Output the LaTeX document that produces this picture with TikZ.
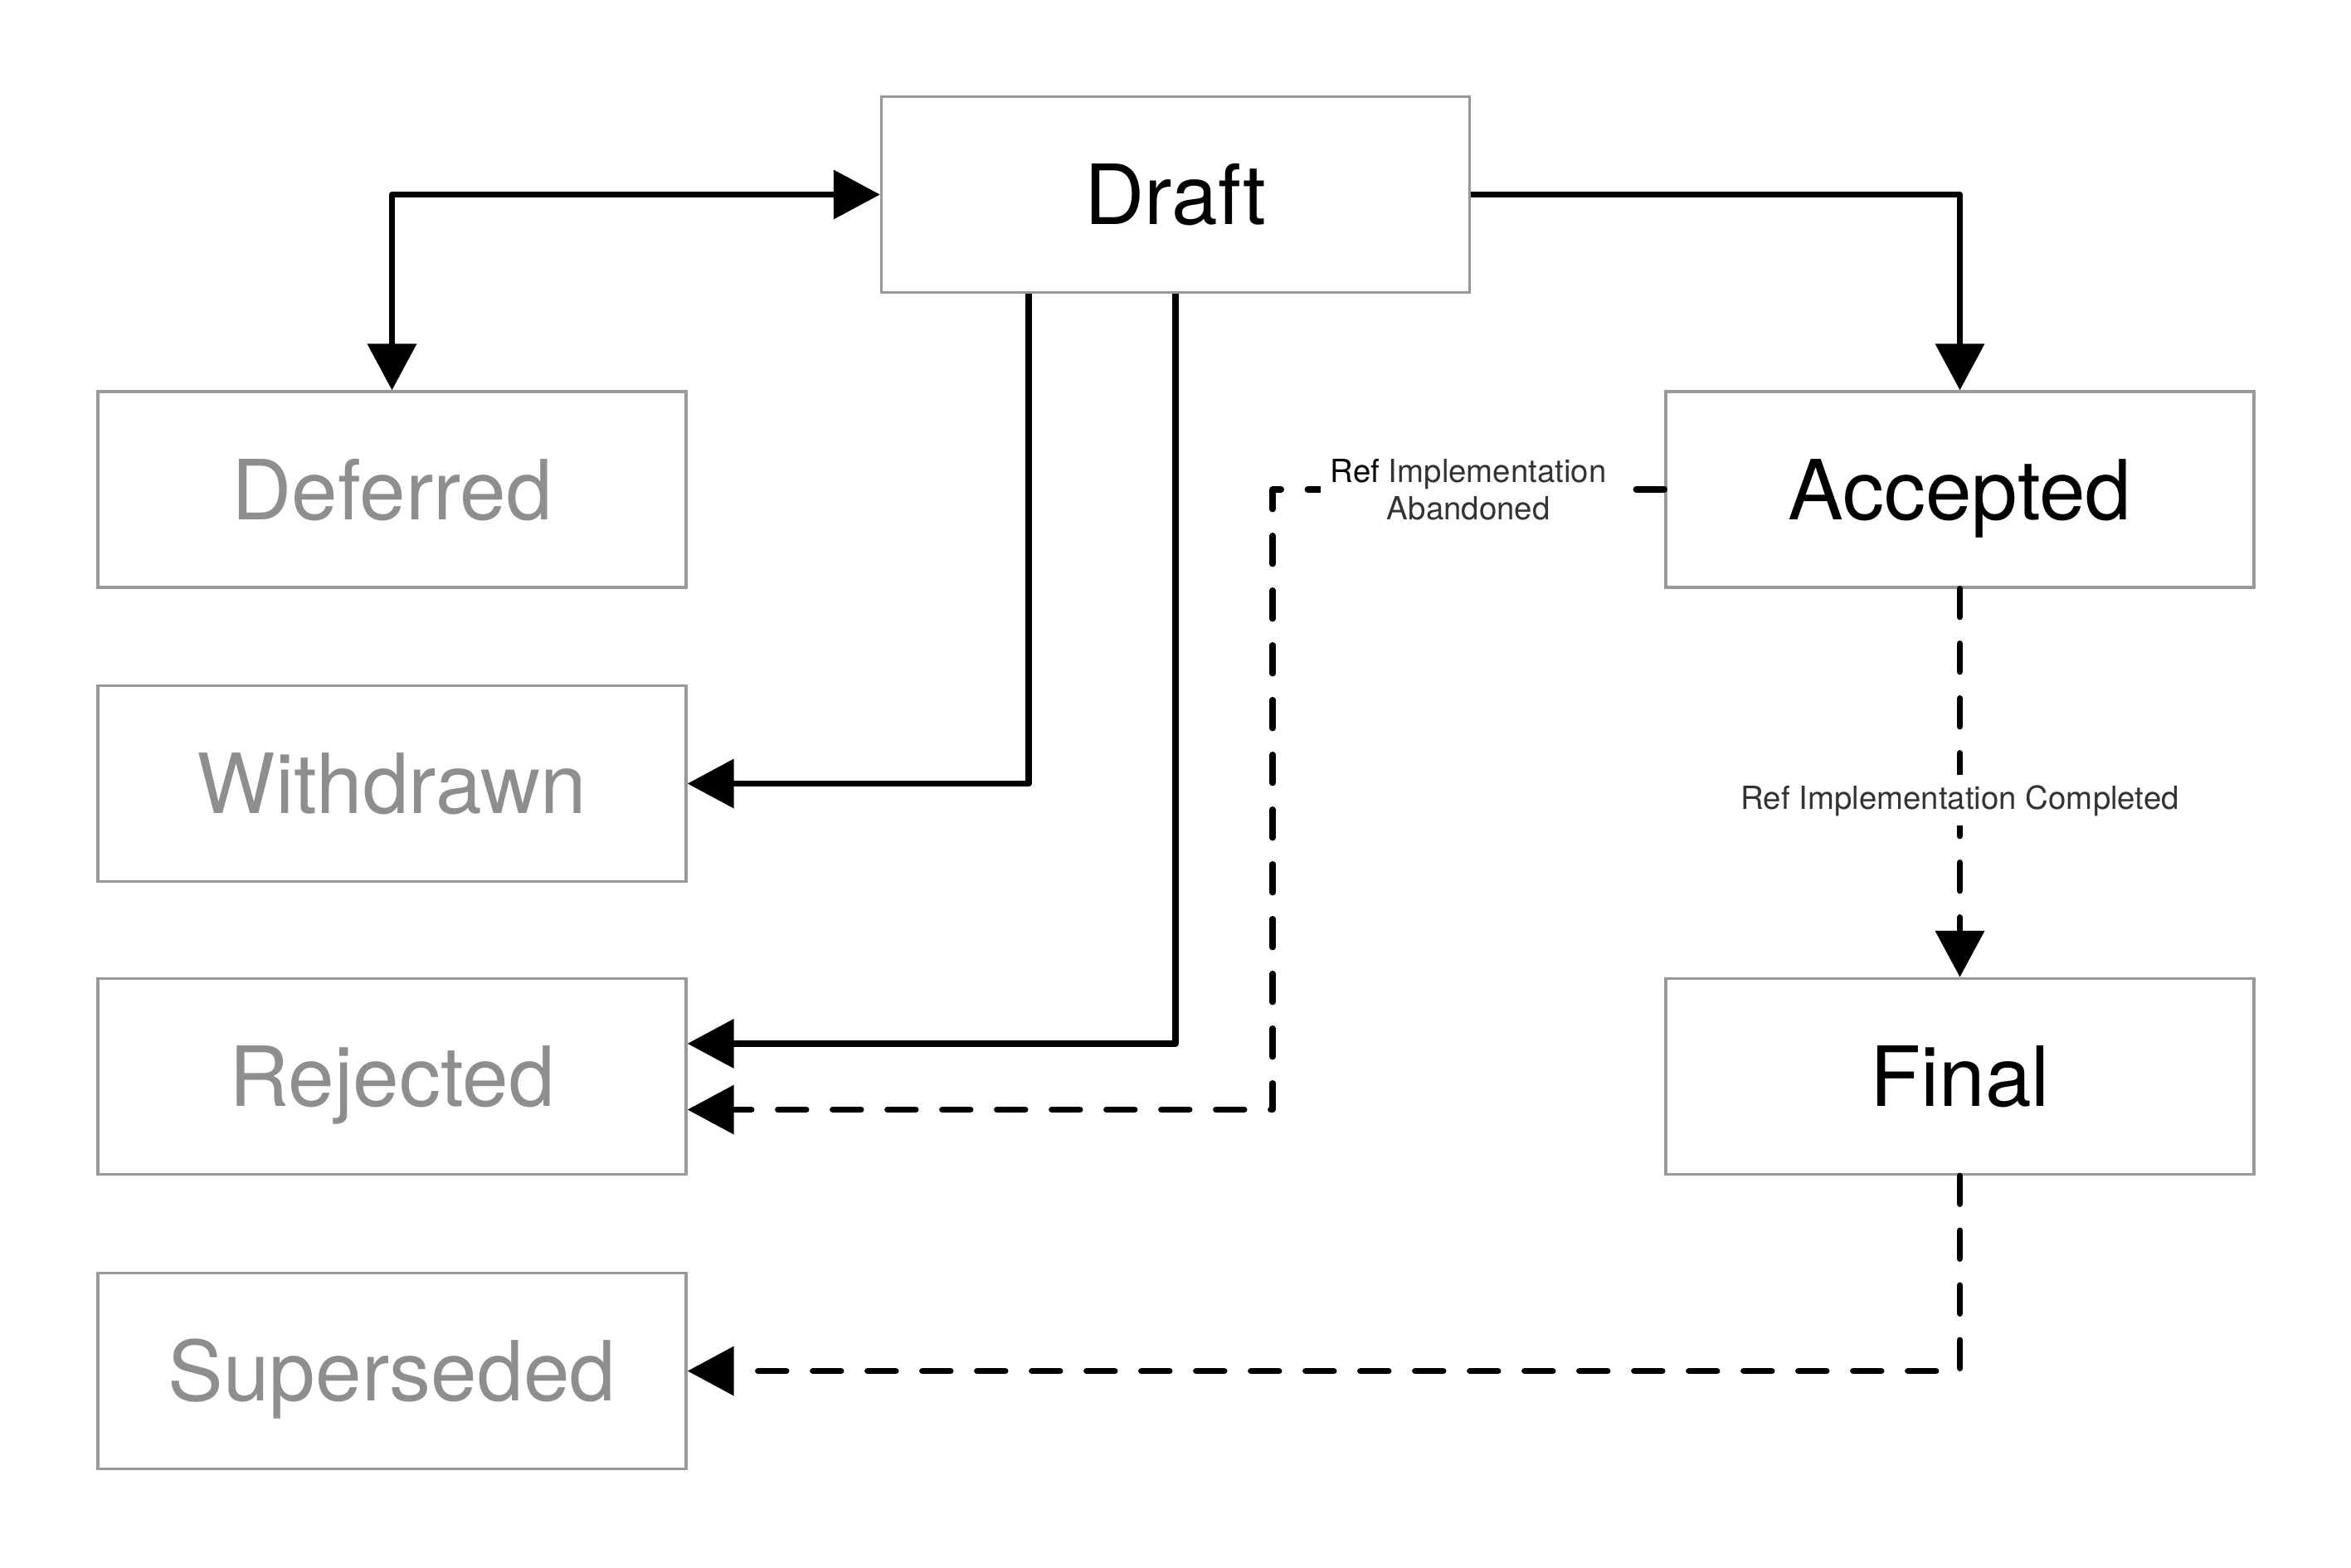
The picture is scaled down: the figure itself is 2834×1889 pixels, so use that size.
\documentclass[tikz,border=0pt]{standalone}
\usepackage{fontspec}
\setmainfont{TeX Gyre Heros}
\usetikzlibrary{arrows.meta}
\definecolor{boxgray}{HTML}{999999}
\definecolor{txtgray}{HTML}{8E8E8E}
\definecolor{lblgray}{HTML}{333333}
\begin{document}
\begin{tikzpicture}[x=0.25pt,y=-0.25pt,
  >={Triangle[length=14pt,width=14.5pt]},
  state/.style={draw=boxgray,line width=0.85pt,minimum width=177.25pt,minimum height=59pt,inner sep=0pt,text height=18pt,text depth=0pt,font=\fontsize{25}{28}\selectfont},
  dim/.style={text=txtgray},
  conn/.style={line width=1.85pt,line join=round,->},
  dashconn/.style={conn,dash pattern=on 8.5pt off 8pt,line cap=round},
  lbl/.style={fill=white,text=lblgray,font=\fontsize{9.6}{11.3}\selectfont,align=center,inner sep=3pt}]
\useasboundingbox (0,0) rectangle (2834,1889);
\node[state] (draft) at (1417,234.5) {Draft};
\node[state,dim] (deferred) at (472.5,590) {Deferred};
\node[state,dim] (withdrawn) at (472.5,944.5) {Withdrawn};
\node[state,dim] (rejected) at (472.5,1297.5) {Rejected};
\node[state,dim] (superseded) at (472.5,1652.5) {Superseded};
\node[state] (accepted) at (2362.5,590) {Accepted};
\node[state] (final) at (2362.5,1297.5) {Final};
\coordinate (abcorner) at (1534,590);

\draw[conn,<->] (deferred.north) |- (draft.west);
\draw[conn] (draft.east) -| (accepted.north);
\draw[conn] ([xshift=-44.25pt]draft.south) |- (withdrawn.east);
\draw[conn] (draft.south) |- ([yshift=9.9pt]rejected.east);
\draw[dashconn] (accepted.west) -- node[lbl]{\textcolor{black}{Ref} Implementation\\Abandoned} (abcorner) |- ([yshift=-10pt]rejected.east);
\draw[dashconn] (accepted.south) -- node[lbl,pos=0.545]{Ref Implementation Completed} (final.north);
\draw[dashconn] (final.south) |- (superseded.east);
\end{tikzpicture}
\end{document}
